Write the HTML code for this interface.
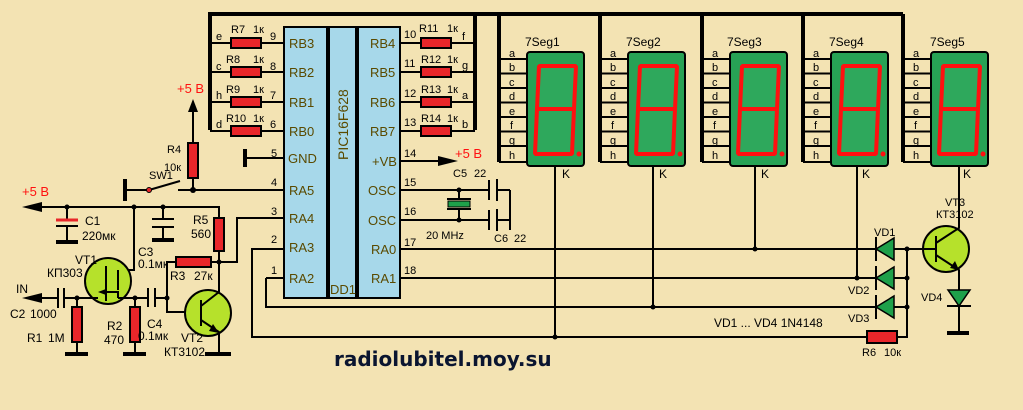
<!DOCTYPE html>
<html><head><meta charset="utf-8"><style>
html,body{margin:0;padding:0;background:#f3e3b3;}
svg{display:block;font-family:"Liberation Sans",sans-serif;}
.w{stroke:#000;stroke-width:2;fill:none}
.tw{stroke:#000;stroke-width:4;fill:none}
.r{fill:#e8262a;stroke:#000;stroke-width:2}
.t{font-size:12px;fill:#000}
.s{font-size:11px;fill:#000}
.p{font-size:13px;fill:#5a4a00}
.red{font-size:13px;fill:#ff1010}
</style></head><body>
<svg width="1023" height="410" viewBox="0 0 1023 410" xmlns="http://www.w3.org/2000/svg">
<defs>
<g id="disp">
<line x1="0" y1="14" x2="0" y2="162" class="tw" stroke-width="3"/>
<path d="M0,59H28M0,73.5H28M0,88H28M0,102.5H28M0,117H28M0,131.5H28M0,146H28M0,162H28" class="w"/>
<rect x="28" y="52" width="57" height="114" rx="3" fill="#27a255" stroke="#000" stroke-width="2"/>
<path d="M40,66L77,66L75,109L38,109ZM38,109L75,109L73,154L36,154Z" fill="#2ea85c" stroke="#ff1010" stroke-width="4" stroke-linejoin="bevel"/>
<circle cx="80" cy="154" r="2.5" fill="#ff1010"/>
</g>
<g id="dio"><polygon points="0,0 18,-11 18,11" fill="#1ea04a" stroke="#000" stroke-width="1.5"/><line x1="0" y1="-12" x2="0" y2="12" class="w" stroke-width="3"/></g>
</defs>

<!-- top bus -->
<path d="M210,130V14H903" class="tw"/>
<line x1="475" y1="14" x2="475" y2="130" class="tw"/>
<!-- displays -->
<use href="#disp" x="499"/><use href="#disp" x="600"/><use href="#disp" x="702"/><use href="#disp" x="803"/><use href="#disp" x="903"/>
<g class="t">
<text x="525" y="46">7Seg1</text><text x="626" y="46">7Seg2</text><text x="727" y="46">7Seg3</text><text x="829" y="46">7Seg4</text><text x="930" y="46">7Seg5</text>
<text x="562" y="178">K</text><text x="659" y="178">K</text><text x="761" y="178">K</text><text x="862" y="178">K</text><text x="963" y="178">K</text>
</g>
<g class="s">
<text x="509" y="57">a</text><text x="509" y="71">b</text><text x="509" y="86">c</text><text x="509" y="100">d</text><text x="509" y="115">e</text><text x="510" y="129">f</text><text x="509" y="144">g</text><text x="509" y="159">h</text>
<text x="610" y="57">a</text><text x="610" y="71">b</text><text x="610" y="86">c</text><text x="610" y="100">d</text><text x="610" y="115">e</text><text x="611" y="129">f</text><text x="610" y="144">g</text><text x="610" y="159">h</text>
<text x="712" y="57">a</text><text x="712" y="71">b</text><text x="712" y="86">c</text><text x="712" y="100">d</text><text x="712" y="115">e</text><text x="713" y="129">f</text><text x="712" y="144">g</text><text x="712" y="159">h</text>
<text x="813" y="57">a</text><text x="813" y="71">b</text><text x="813" y="86">c</text><text x="813" y="100">d</text><text x="813" y="115">e</text><text x="814" y="129">f</text><text x="813" y="144">g</text><text x="813" y="159">h</text>
<text x="913" y="57">a</text><text x="913" y="71">b</text><text x="913" y="86">c</text><text x="913" y="100">d</text><text x="913" y="115">e</text><text x="914" y="129">f</text><text x="913" y="144">g</text><text x="913" y="159">h</text>
</g>

<!-- chip -->
<rect x="284" y="27" width="43" height="271" fill="#a7d8ea" stroke="#000" stroke-width="2"/>
<rect x="329" y="27" width="27" height="271" fill="#a7d8ea" stroke="#000" stroke-width="2"/>
<rect x="358" y="27" width="42" height="271" fill="#a7d8ea" stroke="#000" stroke-width="2"/>
<text transform="translate(348,160) rotate(-90)" class="p" style="font-size:14px">PIC16F628</text>
<text x="330" y="294" class="p">DD1</text>
<g class="p">
<text x="289" y="48">RB3</text><text x="289" y="77">RB2</text><text x="289" y="107">RB1</text><text x="289" y="136">RB0</text><text x="288" y="163">GND</text><text x="289" y="195">RA5</text><text x="289" y="223">RA4</text><text x="289" y="252">RA3</text><text x="289" y="283">RA2</text>
<text x="370" y="48">RB4</text><text x="370" y="77">RB5</text><text x="370" y="107">RB6</text><text x="370" y="136">RB7</text><text x="372" y="166">+VB</text><text x="368" y="195">OSC</text><text x="368" y="225">OSC</text><text x="371" y="254">RA0</text><text x="371" y="283">RA1</text>
</g>
<!-- B resistors -->
<path d="M210,43H284M210,72H284M210,102H284M210,131H284M400,43H475M400,72H475M400,102H475M400,131H475" class="w"/>
<rect x="231" y="38" width="30" height="10" class="r"/><rect x="231" y="67" width="30" height="10" class="r"/><rect x="231" y="97" width="30" height="10" class="r"/><rect x="231" y="126" width="30" height="10" class="r"/>
<rect x="421" y="38" width="30" height="10" class="r"/><rect x="421" y="67" width="30" height="10" class="r"/><rect x="421" y="97" width="30" height="10" class="r"/><rect x="421" y="126" width="30" height="10" class="r"/>
<g class="s">
<text x="216" y="40">e</text><text x="231" y="33">R7</text><text x="253" y="33">1к</text><text x="270" y="40">9</text>
<text x="216" y="70">c</text><text x="226" y="63">R8</text><text x="253" y="63">1к</text><text x="270" y="70">8</text>
<text x="216" y="99">h</text><text x="226" y="93">R9</text><text x="253" y="93">1к</text><text x="270" y="99">7</text>
<text x="216" y="128">d</text><text x="226" y="122">R10</text><text x="253" y="122">1к</text><text x="270" y="128">6</text>
<text x="404" y="38">10</text><text x="419" y="32">R11</text><text x="447" y="32">1к</text><text x="462" y="40">f</text>
<text x="404" y="67">11</text><text x="421" y="63">R12</text><text x="447" y="63">1к</text><text x="462" y="69">g</text>
<text x="404" y="97">12</text><text x="421" y="93">R13</text><text x="447" y="93">1к</text><text x="462" y="99">a</text>
<text x="404" y="126">13</text><text x="421" y="122">R14</text><text x="447" y="122">1к</text><text x="462" y="128">b</text>
<text x="271" y="157">5</text><text x="271" y="186">4</text><text x="271" y="215">3</text><text x="271" y="243">2</text><text x="271" y="274">1</text>
<text x="404" y="157">14</text><text x="404" y="186">15</text><text x="404" y="215">16</text><text x="404" y="246">17</text><text x="404" y="274">18</text>
</g>
<!-- GND, VB -->
<path d="M245,158H284" class="w"/><line x1="245" y1="149" x2="245" y2="167" class="tw"/>
<path d="M400,161H440" class="w"/><polygon points="438,156 458,161 438,166" fill="#000"/>
<text x="455" y="158" class="red">+5 В</text>
<!-- osc -->
<path d="M400,190H488M400,220H488" class="w"/>
<path d="M489,180V200M489,210V230" class="w" stroke-width="3"/>
<path d="M497,179V201M497,209V231" class="w" stroke-width="4"/>
<path d="M497,190H510M497,220H510M510,190V230" class="w"/>
<path d="M459,190V200M459,208V220" class="w"/>
<rect x="448" y="201" width="22" height="6" fill="#1ea04a" stroke="#000" stroke-width="1"/>
<path d="M447,199H471M447,209H471" class="w" stroke-width="1.5"/>
<circle cx="459" cy="190" r="2.5"/><circle cx="459" cy="220" r="2.5"/>
<text x="453" y="177" class="s">C5</text><text x="474" y="177" class="s">22</text>
<text x="426" y="239" class="s">20 MHz</text><text x="494" y="242" class="s">C6</text><text x="514" y="242" class="s">22</text>

<!-- RA lines and diodes -->
<path d="M400,249H876M400,278H876M266,278H284M266,278V307H876M284,249H252V337H867M897,337H907V249H923" class="w"/>
<path d="M555,166V337M653,166V307M755,166V249M857,166V278" class="w"/>
<circle cx="555" cy="337" r="2.5"/><circle cx="653" cy="307" r="2.5"/><circle cx="755" cy="249" r="2.5"/><circle cx="857" cy="278" r="2.5"/>
<path d="M894,249H907M894,278H907M894,307H907" class="w"/>
<use href="#dio" x="876" y="249"/><use href="#dio" x="876" y="278"/><use href="#dio" x="876" y="307"/>
<circle cx="907" cy="249" r="2.5"/><circle cx="907" cy="278" r="2.5"/><circle cx="907" cy="307" r="2.5"/>
<rect x="867" y="331" width="30" height="12" class="r"/>
<g class="s">
<text x="874" y="236">VD1</text><text x="848" y="294">VD2</text><text x="848" y="322">VD3</text>
<text x="714" y="327" style="font-size:12px">VD1 ... VD4 1N4148</text>
<text x="862" y="356">R6</text><text x="884" y="356">10к</text>
<text x="921" y="301">VD4</text><text x="945" y="206">VT3</text><text x="936" y="218">КТ3102</text>
</g>
<!-- VT3 -->
<circle cx="946" cy="249" r="23" fill="#b6e12b" stroke="#000" stroke-width="2"/>
<path d="M936,236V262" class="w" stroke-width="3"/>
<path d="M923,249H936M936,243L959,228V166M936,255L959,270V290M959,306V333" class="w"/>
<polygon points="959,270 950,268 955,261" fill="#000"/>
<polygon points="948,290 970,290 959,306" fill="#1ea04a" stroke="#000" stroke-width="1.5"/>
<line x1="947" y1="306" x2="971" y2="306" class="w" stroke-width="2.5"/>
<line x1="947" y1="333" x2="969" y2="333" class="tw" stroke-width="5"/>

<!-- left circuit -->
<text x="177" y="93" class="red">+5 В</text>
<path d="M193,108V143M193,178V190" class="w"/><polygon points="188,112 193,99 198,112" fill="#000"/>
<rect x="188" y="143" width="10" height="35" class="r"/>
<text x="167" y="153" class="s">R4</text><text x="164" y="171" class="s">10к</text>
<text x="149" y="179" class="s">SW1</text>
<line x1="125" y1="179" x2="125" y2="201" class="tw"/>
<path d="M125,190H149M149,190L180,181M178,190H284" class="w"/>
<circle cx="149" cy="190" r="2.5" fill="#e8262a" stroke="#000" stroke-width="1"/>
<circle cx="193" cy="190" r="3"/>
<text x="22" y="196" class="red">+5 В</text>
<path d="M30,207H219V218M219,251V262M219,262V292" class="w"/>
<polygon points="22,207 42,202 42,212" fill="#000"/>
<circle cx="67" cy="207" r="2.5"/><circle cx="134" cy="207" r="2.5"/><circle cx="163" cy="207" r="2.5"/>
<path d="M67,207V220M67,226V241" class="w"/>
<line x1="56" y1="220" x2="78" y2="220" stroke="#e8262a" stroke-width="3"/>
<line x1="56" y1="226" x2="78" y2="226" class="w" stroke-width="3"/>
<line x1="56" y1="242" x2="78" y2="242" class="tw" stroke-width="5"/>
<text x="85" y="225" class="t">C1</text><text x="82" y="240" class="t">220мк</text>
<path d="M163,207V218M163,226V239" class="w"/>
<line x1="152" y1="219" x2="174" y2="219" class="w" stroke-width="3"/>
<line x1="152" y1="227" x2="174" y2="227" class="w" stroke-width="3"/>
<line x1="152" y1="240" x2="174" y2="240" class="tw" stroke-width="5"/>
<text x="138" y="256" class="t">C3</text><text x="138" y="268" class="t">0.1мк</text>
<rect x="214" y="218" width="10" height="33" class="r"/>
<text x="193" y="224" class="t">R5</text><text x="191" y="238" class="t">560</text>
<path d="M284,218H237V262H211M176,262H167V312H198" class="w"/>
<rect x="176" y="257" width="35" height="10" class="r"/>
<circle cx="219" cy="262" r="2.5"/><circle cx="167" cy="298" r="2.5"/>
<text x="170" y="280" class="t">R3</text><text x="194" y="280" class="t">27к</text>
<!-- VT1 -->
<path d="M134,207V270H118" class="w"/>
<circle cx="108" cy="281" r="23" fill="#b6e12b" stroke="#000" stroke-width="2"/>
<path d="M106,266V301M106,292H118V298" class="w" stroke-width="3"/>
<path d="M118,270V290" class="w"/>
<polygon points="98,292 106,289 106,295" fill="#000"/>
<text x="75" y="264" class="t">VT1</text><text x="47" y="277" class="t">КП303</text>
<path d="M30,298H58M64,298H98M118,298H148M155,298H167" class="w"/>
<polygon points="22,298 42,293 42,303" fill="#000"/>
<text x="16" y="293" class="t">IN</text>
<path d="M58,288V308M64,288V308M148,288V307M155,288V307" class="w" stroke-width="3"/>
<circle cx="77" cy="298" r="2.5"/><circle cx="135" cy="298" r="2.5"/>
<text x="10" y="318" class="t">C2</text><text x="30" y="318" class="t">1000</text>
<path d="M77,298V307M77,342V353M135,298V307M135,342V353" class="w"/>
<rect x="72" y="307" width="10" height="35" class="r"/><rect x="130" y="307" width="10" height="35" class="r"/>
<line x1="65" y1="354" x2="88" y2="354" class="tw" stroke-width="5"/><line x1="123" y1="354" x2="146" y2="354" class="tw" stroke-width="5"/>
<text x="27" y="342" class="t">R1</text><text x="48" y="342" class="t">1M</text>
<text x="107" y="330" class="t">R2</text><text x="104" y="344" class="t">470</text>
<text x="147" y="328" class="t">C4</text><text x="138" y="340" class="t">0.1мк</text>
<!-- VT2 -->
<circle cx="208" cy="313" r="23" fill="#b6e12b" stroke="#000" stroke-width="2"/>
<path d="M201,300V326" class="w" stroke-width="3"/>
<path d="M201,306L219,292M201,320L219,332V353" class="w"/>
<polygon points="219,333 209,331 213,324" fill="#000"/>
<line x1="205" y1="354" x2="231" y2="354" class="tw" stroke-width="5"/>
<text x="181" y="342" class="t">VT2</text><text x="164" y="356" class="t">КТ3102</text>

<text x="334" y="366" style="font-size:20px;font-weight:bold;fill:#0a1530;font-family:'DejaVu Sans',sans-serif">radiolubitel.moy.su</text>
</svg>
</body></html>
